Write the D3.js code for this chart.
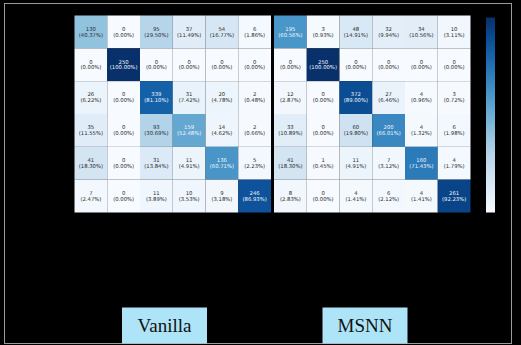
<!DOCTYPE html>
<html><head><meta charset="utf-8">
<script src="https://cdn.jsdelivr.net/npm/d3@7"></script>
<style>html,body{margin:0;padding:0;background:#000;}svg{display:block;}</style>
</head><body>
<svg id="c" width="521" height="345"></svg>
<script>
const classes = [0,1,2,3,4,5];
const titles = ["Vanilla","MSNN"];
const vanillaCounts = [
 [130,0,95,37,54,6],
 [0,250,0,0,0,0],
 [26,0,339,31,20,2],
 [35,0,93,159,14,2],
 [41,0,31,11,136,5],
 [7,0,11,10,9,246]];
const vanillaPct = [
 [40.37,0.00,29.50,11.49,16.77,1.86],
 [0.00,100.00,0.00,0.00,0.00,0.00],
 [6.22,0.00,81.10,7.42,4.78,0.48],
 [11.55,0.00,30.69,52.48,4.62,0.66],
 [18.30,0.00,13.84,4.91,60.71,2.23],
 [2.47,0.00,3.89,3.53,3.18,86.93]];
const msnnCounts = [
 [195,3,48,32,34,10],
 [0,250,0,0,0,0],
 [12,0,372,27,4,3],
 [33,0,60,200,4,6],
 [41,1,11,7,160,4],
 [8,0,4,6,4,261]];
const msnnPct = [
 [60.56,0.93,14.91,9.94,10.56,3.11],
 [0.00,100.00,0.00,0.00,0.00,0.00],
 [2.87,0.00,89.00,6.46,0.96,0.72],
 [10.89,0.00,19.80,66.01,1.32,1.98],
 [18.30,0.45,4.91,3.12,71.43,1.79],
 [2.83,0.00,1.41,2.12,1.41,92.23]];

const svg = d3.select("#c");
svg.append("rect").attr("x",4.5).attr("y",3.5).attr("width",507).attr("height",340)
  .attr("fill","#000").attr("stroke","#9a9a9a").attr("stroke-width",1);

const color = d3.scaleSequential(d3.interpolateBlues).domain([0,100]);
const panels = [
  {counts: vanillaCounts, pct: vanillaPct, x0: 74.5, x1: 271},
  {counts: msnnCounts, pct: msnnPct, x0: 274, x1: 470.5}
];
const y = d3.scaleBand().domain(classes).range([15.5, 212.5]);
panels.forEach(p => {
  const x = d3.scaleBand().domain(classes).range([p.x0, p.x1]);
  const g = svg.append("g");
  const cells = [];
  p.counts.forEach((row,i) => row.forEach((v,j) => cells.push({i,j,v,pc:p.pct[i][j]})));
  g.selectAll("rect").data(cells).join("rect")
    .attr("x", d => x(d.j)).attr("y", d => y(d.i))
    .attr("width", x.bandwidth()).attr("height", y.bandwidth())
    .attr("fill", d => color(d.pc));
  const t = g.selectAll("text").data(cells).join("text")
    .attr("text-anchor","middle")
    .attr("font-family","DejaVu Sans, sans-serif")
    .attr("font-size","5.3px")
    .attr("fill", d => d.pc > 50 ? "#f2f6fb" : "#2a2a2a");
  t.append("tspan").attr("x", d => x(d.j)+x.bandwidth()/2).attr("y", d => y(d.i)+y.bandwidth()/2-1.2).text(d => d.v);
  t.append("tspan").attr("x", d => x(d.j)+x.bandwidth()/2).attr("y", d => y(d.i)+y.bandwidth()/2+4.6).text(d => "(" + d.pc.toFixed(2) + "%)");
});

// colorbar
const defs = svg.append("defs");
const grad = defs.append("linearGradient").attr("id","cb").attr("x1",0).attr("y1",1).attr("x2",0).attr("y2",0);
d3.range(0,1.0001,0.1).forEach(s => grad.append("stop").attr("offset",s).attr("stop-color",color(s*100)));
const cbScale = d3.scaleLinear().domain([0,100]).range([212.5,17.5]);
svg.append("rect").attr("x",486).attr("y",cbScale(100)).attr("width",9).attr("height",cbScale(0)-cbScale(100))
  .attr("fill","url(#cb)");

// labels
const labX = d3.scaleOrdinal().domain(titles).range([122, 322.5]);
titles.forEach(tl => {
  svg.append("rect").attr("x", labX(tl)).attr("y",307.5).attr("width",85).attr("height",36)
    .attr("fill","#aee4f8");
  svg.append("text").attr("x", labX(tl)+42.5).attr("y",332)
    .attr("text-anchor","middle").attr("font-family","Liberation Serif, serif")
    .attr("font-size","19px").attr("fill","#111").text(tl);
});
</script>
</body></html>
